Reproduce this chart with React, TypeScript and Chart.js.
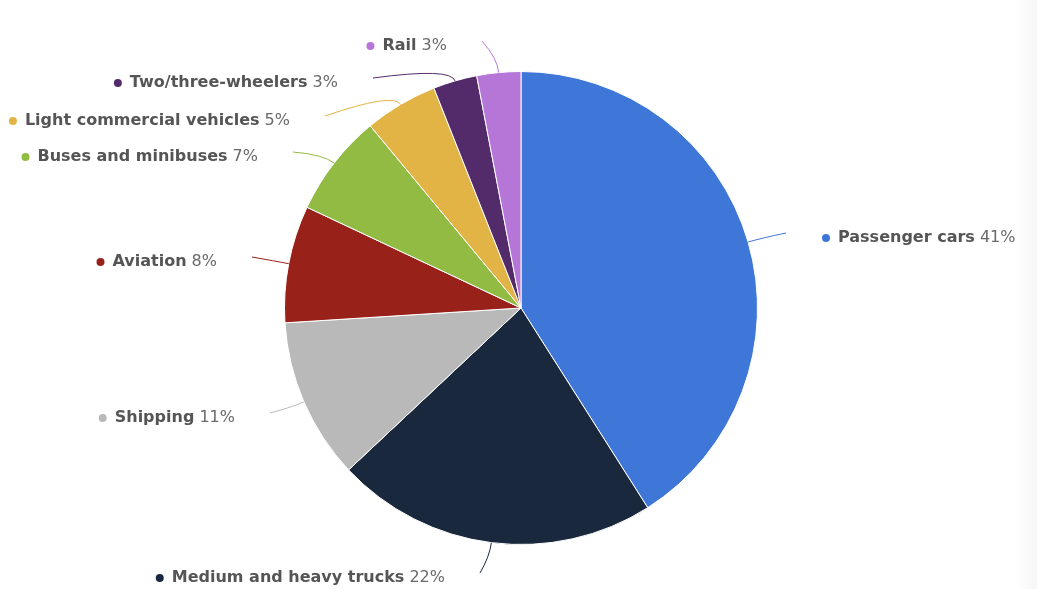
import React, { useEffect, useRef } from 'react';
import { Chart, registerables } from 'chart.js';

Chart.register(...registerables);

const categories = [
  'Passenger cars',
  'Medium and heavy trucks',
  'Shipping',
  'Aviation',
  'Buses and minibuses',
  'Light commercial vehicles',
  'Two/three-wheelers',
  'Rail',
];
const shares = [41, 22, 11, 8, 7, 5, 3, 3];
const colors = ['#3f77d8', '#19283d', '#b9b9b9', '#98211a', '#92bb44', '#e2b445', '#532b6b', '#b576d8'];

// layout: end points of the label connectors (pixels)
const labelAnchors: [number, number][] = [
  [786, 233],
  [480, 573],
  [270, 413],
  [252, 257],
  [293, 152],
  [325, 116],
  [373, 78],
  [482, 41],
];

const FONT_BOLD = 'bold 16px "DejaVu Sans", sans-serif';
const FONT_NORMAL = '16px "DejaVu Sans", sans-serif';

const labelPlugin = {
  id: 'pieLabels',
  afterDatasetsDraw(chart: any) {
    const ctx = chart.ctx as CanvasRenderingContext2D;
    const meta = chart.getDatasetMeta(0);
    meta.data.forEach((arc: any, i: number) => {
      const { x, y, startAngle, endAngle, outerRadius } = arc.getProps(
        ['x', 'y', 'startAngle', 'endAngle', 'outerRadius'],
        true
      );
      const mid = (startAngle + endAngle) / 2;
      const cs = Math.cos(mid);
      const sn = Math.sin(mid);
      const p0x = x + cs * outerRadius;
      const p0y = y + sn * outerRadius;
      const pcx = x + cs * (outerRadius + 14);
      const pcy = y + sn * (outerRadius + 14);
      const [ax, ay] = labelAnchors[i];
      ctx.save();
      ctx.strokeStyle = colors[i];
      ctx.lineWidth = 1;
      ctx.beginPath();
      ctx.moveTo(p0x, p0y);
      ctx.quadraticCurveTo(pcx, pcy, ax, ay);
      ctx.stroke();

      const name = categories[i];
      const pct = ' ' + shares[i] + '%';
      ctx.font = FONT_BOLD;
      const wn = ctx.measureText(name).width;
      ctx.font = FONT_NORMAL;
      const wp = ctx.measureText(pct).width;
      const right = ax > x;
      const ty = ay + 5;
      const tx = right ? ax + 52 : ax - 35 - wn - wp;

      ctx.fillStyle = colors[i];
      ctx.beginPath();
      ctx.arc(tx - 12, ty, 4, 0, Math.PI * 2);
      ctx.fill();

      ctx.textBaseline = 'middle';
      ctx.textAlign = 'left';
      ctx.font = FONT_BOLD;
      ctx.fillStyle = '#555555';
      ctx.fillText(name, tx, ty);
      ctx.font = FONT_NORMAL;
      ctx.fillStyle = '#6a6a6a';
      ctx.fillText(pct, tx + wn, ty);
      ctx.restore();
    });
  },
};

export default function App() {
  const canvasRef = useRef<HTMLCanvasElement | null>(null);

  useEffect(() => {
    if (!canvasRef.current) return;
    const chart = new Chart(canvasRef.current, {
      type: 'pie',
      data: {
        labels: categories,
        datasets: [
          {
            data: shares,
            backgroundColor: colors,
            borderColor: '#ffffff',
            borderWidth: 1,
          },
        ],
      },
      options: {
        responsive: false,
        animation: false,
        layout: { padding: { left: 284, right: 279, top: 71, bottom: 44 } },
        plugins: {
          legend: { display: false },
          tooltip: { enabled: false },
        },
      },
      plugins: [labelPlugin],
    });
    return () => chart.destroy();
  }, []);

  return (
    <div style={{ position: 'absolute', left: 0, top: 0, width: 1037, height: 589, background: '#ffffff' }}>
      <canvas ref={canvasRef} width={1037} height={589} style={{ display: 'block' }} />
      <div
        style={{
          position: 'absolute',
          right: 0,
          top: 0,
          width: 22,
          height: 589,
          background: 'linear-gradient(to right, rgba(0,0,0,0), rgba(0,0,0,0.035))',
        }}
      />
    </div>
  );
}
